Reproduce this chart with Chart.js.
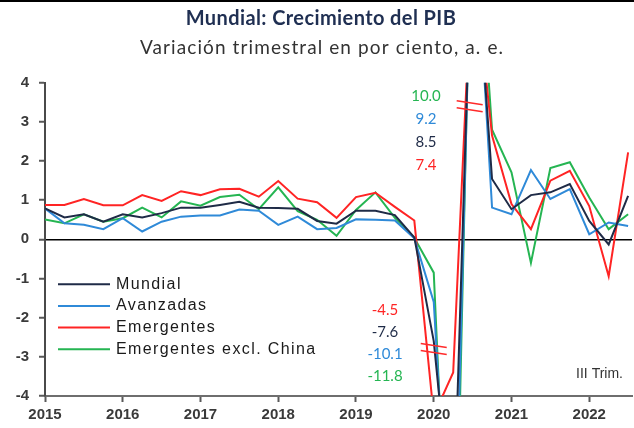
<!DOCTYPE html>
<html><head><meta charset="utf-8">
<script src="https://cdn.jsdelivr.net/npm/chart.js@4.4.1/dist/chart.umd.min.js"></script>
<style>html,body{margin:0;padding:0;background:#fff;}#wrap{position:relative;width:634px;height:428px;}</style>
</head><body><div id="wrap"><canvas id="c"></canvas></div>
<script>
const quarters = ['2015 T1','2015 T2','2015 T3','2015 T4','2016 T1','2016 T2','2016 T3','2016 T4',
  '2017 T1','2017 T2','2017 T3','2017 T4','2018 T1','2018 T2','2018 T3','2018 T4',
  '2019 T1','2019 T2','2019 T3','2019 T4','2020 T1','2020 T2','2020 T3','2020 T4',
  '2021 T1','2021 T2','2021 T3','2021 T4','2022 T1','2022 T2','2022 T3'];
const yearLabels = ['2015','2016','2017','2018','2019','2020','2021','2022'];
const yTicks = [4,3,2,1,0,-1,-2,-3,-4];
const mundial = [0.79,0.56,0.64,0.45,0.64,0.56,0.67,0.81,0.81,0.88,0.96,0.81,0.80,0.78,0.47,0.40,
  0.73,0.73,0.62,0.05,-2.6,-7.6,8.5,1.54,0.77,1.13,1.20,1.41,0.47,-0.13,1.11];
const avanzadas = [0.79,0.41,0.37,0.26,0.54,0.20,0.45,0.58,0.61,0.61,0.76,0.73,0.37,0.58,0.26,0.29,
  0.51,0.50,0.48,0.03,-1.6,-10.1,9.2,0.81,0.64,1.77,1.03,1.28,0.13,0.43,0.34];
const emergentes = [0.88,0.88,1.03,0.87,0.87,1.13,0.98,1.23,1.13,1.28,1.29,1.09,1.49,1.04,0.95,0.55,
  1.08,1.19,0.83,0.48,-4.5,-3.4,7.4,2.65,0.90,0.26,1.50,1.75,0.85,-0.94,2.22];
const emergentesExChina = [0.51,0.41,0.64,0.45,0.54,0.81,0.56,0.97,0.86,1.08,1.14,0.77,1.33,0.72,0.50,0.09,
  0.75,1.20,0.55,0.04,-0.85,-11.8,10.0,2.80,1.71,-0.60,1.82,1.97,1.07,0.26,0.64];
const seriesNames = ['Mundial','Avanzadas','Emergentes','Emergentes excl. China'];
const seriesColors = ['#1f2b47','#2f8ad8','#ff2424','#25b552'];
const seriesData = [mundial, avanzadas, emergentes, emergentesExChina];
const titleText = 'Mundial: Crecimiento del PIB';
const subtitleText = 'Variación trimestral en por ciento, a. e.';
const noteText = 'III Trim.';
const topOrder = [3,1,0,2];     // order of top annotations (max values)
const bottomOrder = [2,0,1,3];  // order of bottom annotations (min values)
const breakMarks = [{x:21.85,y:3.4},{x:20.0,y:-2.8}];

const datasets = seriesData.map((arr,k)=>({
  label: seriesNames[k],
  data: arr.map((v,i)=>({x:i,y:v})),
  borderColor: seriesColors[k],
  backgroundColor: seriesColors[k],
  borderWidth: 2,
  pointRadius: 0,
  tension: 0,
  clip: 0
}));

function spaced(ctx, px){ try { ctx.letterSpacing = px + 'px'; } catch(e){} }

const deco = {
  id:'deco',
  afterDatasetsDraw(chart){
    const {ctx, chartArea:a, scales:{x,y}} = chart;
    ctx.save();
    // top rule
    ctx.fillStyle = '#000';
    ctx.fillRect(0,0,chart.width,2);
    // title + subtitle
    ctx.textAlign = 'center'; ctx.textBaseline = 'middle';
    ctx.fillStyle = '#1f2f52';
    ctx.font = 'bold 20px Lato';
    spaced(ctx, 0.4);
    ctx.fillText(titleText, 321, 19);
    ctx.fillStyle = '#333';
    ctx.font = '19px Lato';
    spaced(ctx, 1.1);
    ctx.fillText(subtitleText, 322, 48);
    spaced(ctx, 0);
    // break marks
    ctx.strokeStyle = '#ff2a2a'; ctx.lineWidth = 1.6;
    breakMarks.forEach(b=>{
      const cx = x.getPixelForValue(b.x), cy = y.getPixelForValue(b.y);
      [-3.5,3.5].forEach(d=>{
        ctx.beginPath(); ctx.moveTo(cx-13, cy+d-2); ctx.lineTo(cx+13, cy+d+2); ctx.stroke();
      });
    });
    // value annotations
    ctx.font = '15px Lato';
    topOrder.forEach((k,j)=>{
      ctx.fillStyle = seriesColors[k];
      ctx.fillText(Math.max(...seriesData[k]).toFixed(1), a.left+381, a.top+13.5+j*23);
    });
    bottomOrder.forEach((k,j)=>{
      ctx.fillStyle = seriesColors[k];
      ctx.fillText(Math.min(...seriesData[k]).toFixed(1), a.left+340, a.top+227+j*22.3);
    });
    // legend
    ctx.font = '16px "Liberation Sans"';
    ctx.textAlign = 'left';
    spaced(ctx, 1.4);
    seriesNames.forEach((n,k)=>{
      const yy = a.top + 201.5 + k*21.7;
      ctx.strokeStyle = seriesColors[k]; ctx.lineWidth = 2;
      ctx.beginPath(); ctx.moveTo(a.left+13, yy); ctx.lineTo(a.left+65, yy); ctx.stroke();
      ctx.fillStyle = '#1a1a1a';
      ctx.fillText(n, a.left+71, yy);
    });
    spaced(ctx, 0);
    ctx.font = '14px "Liberation Sans"';
    ctx.textAlign = 'right';
    ctx.fillStyle = '#333';
    ctx.fillText(noteText, a.right-9, a.bottom-22);
    ctx.restore();
  }
};

new Chart(document.getElementById('c'), {
  type: 'line',
  data: { labels: quarters, datasets },
  options: {
    responsive: true, maintainAspectRatio: false, animation: false,
    layout: { padding: { left: 0, right: 2, top: 82.7, bottom: 0 } },
    plugins: {
      legend: { display: false },
      tooltip: { enabled: false },
      title: { display: false },
      subtitle: { display: false }
    },
    scales: {
      x: {
        type: 'linear', min: 0, max: 30.2,
        afterBuildTicks: s => { s.ticks = yearLabels.map((_,i)=>({value:i*4})); },
        afterFit: s => { s.height = 32; },
        ticks: { callback: (v)=> yearLabels[Math.round(v/4)], color: '#3a3a3a', padding: 4,
          font: { family: 'Liberation Sans', size: 15, weight: 'bold' }, maxRotation: 0, autoSkip: false },
        grid: { drawOnChartArea: false, drawTicks: true, tickLength: 6, tickColor: '#595959', tickWidth: 2 },
        border: { color: '#6e6e6e', width: 2 }
      },
      y: {
        min: -4, max: 4,
        afterBuildTicks: s => { s.ticks = yTicks.map(v=>({value:v})); },
        afterFit: s => { s.width = 45; },
        ticks: { color: '#3a3a3a', padding: 10,
          font: { family: 'Liberation Sans', size: 15, weight: 'bold' } },
        grid: { drawOnChartArea: true, drawTicks: true, tickLength: 6, tickColor: '#595959', tickWidth: 2,
          color: c => (c.tick && c.tick.value === 0) ? '#000' : 'rgba(0,0,0,0)', lineWidth: 1.5 },
        border: { color: '#4a4a4a', width: 2 }
      }
    }
  },
  plugins: [deco]
});
</script>
</body></html>
